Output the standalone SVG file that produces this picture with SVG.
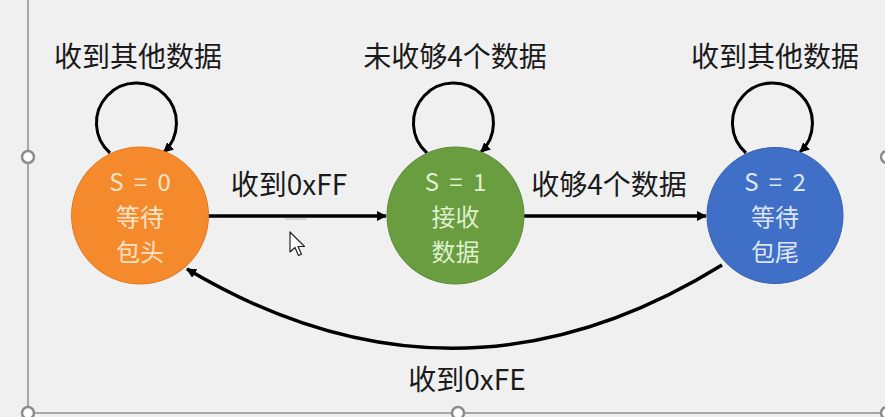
<svg xmlns="http://www.w3.org/2000/svg" width="885" height="417" viewBox="0 0 885 417">
<style>
.lbl{font-family:"Noto Sans CJK SC","Liberation Sans",sans-serif;font-size:28px;fill:#1a1a1a;text-anchor:middle}
.nt{font-family:"Noto Sans CJK SC","Liberation Sans",sans-serif;font-size:24px;text-anchor:middle}
.sv{word-spacing:5px}
.edge{fill:none;stroke:#000;stroke-width:3.5}
.loop{fill:none;stroke:#000;stroke-width:3}
.frame{stroke:#a6a6a6;stroke-width:2;fill:none}
.handle{fill:#fff;stroke:#8c8c8c;stroke-width:2.5}
</style>
<defs>
<marker id="ah" markerWidth="10" markerHeight="10" refX="9" refY="5" orient="auto" markerUnits="userSpaceOnUse" viewBox="0 0 10 10">
<path d="M0,0 L10,5 L0,10 Z" fill="#000"/>
</marker>
</defs>
<rect width="885" height="417" fill="#f0f0f0"/>
<g id="frame">
<line class="frame" x1="28" y1="0" x2="28" y2="413"/>
<line class="frame" x1="28" y1="413" x2="885" y2="413"/>
<circle class="handle" cx="28" cy="157" r="6"/>
<circle class="handle" cx="28" cy="413" r="6"/>
<circle class="handle" cx="458" cy="413" r="6"/>
<circle class="handle" cx="887" cy="157" r="6"/>
<circle class="handle" cx="887" cy="413" r="6"/>
</g>
<g id="connectors">
<path class="loop" d="M110,153 A40,40 0 1 1 164,152" marker-end="url(#ah)"/>
<path class="loop" d="M427,153 A40,40 0 1 1 481,152" marker-end="url(#ah)"/>
<path class="loop" d="M746,153 A40,40 0 1 1 800,152" marker-end="url(#ah)"/>
<line class="edge" x1="208" y1="216" x2="386" y2="216" marker-end="url(#ah)"/>
<line class="edge" x1="524" y1="216" x2="706" y2="216" marker-end="url(#ah)"/>
<path class="edge" d="M722,265 Q456.5,429.5 187,269" marker-end="url(#ah)"/>
<text class="lbl" x="138" y="67">收到其他数据</text>
<text class="lbl" x="455" y="67">未收够4个数据</text>
<text class="lbl" x="775" y="67">收到其他数据</text>
<text class="lbl" x="289" y="195">收到0xFF</text>
<text class="lbl" x="609" y="195">收够4个数据</text>
<text class="lbl" x="467" y="390">收到0xFE</text>
</g>
<g id="s0">
<circle cx="140" cy="215.5" r="68.5" fill="#f58a2c" stroke="#e07a22" stroke-width="1"/>
<text class="nt sv" fill="#fde4c9" x="140" y="191">S = 0</text>
<text class="nt" fill="#fde4c9" x="140" y="226">等待</text>
<text class="nt" fill="#fde4c9" x="140" y="261">包头</text>
</g>
<g id="s1">
<circle cx="455.5" cy="215.5" r="68.5" fill="#6a9c40" stroke="#5c8a36" stroke-width="1"/>
<text class="nt sv" fill="#dff0cf" x="455.5" y="191">S = 1</text>
<text class="nt" fill="#dff0cf" x="455.5" y="226">接收</text>
<text class="nt" fill="#dff0cf" x="455.5" y="261">数据</text>
</g>
<g id="s2">
<circle cx="775" cy="215.5" r="68" fill="#3f6fc6" stroke="#3561b0" stroke-width="1"/>
<text class="nt sv" fill="#dde6f6" x="775" y="191">S = 2</text>
<text class="nt" fill="#dde6f6" x="775" y="226">等待</text>
<text class="nt" fill="#dde6f6" x="775" y="261">包尾</text>
</g>
<g id="cursor">
<line x1="285" y1="219" x2="306" y2="219" stroke="#c8c8c8" stroke-width="1.5"/>
<path d="M290,232 L290,252 L295,247.5 L298.5,255.5 L301.5,254.2 L298,246.5 L304.5,246.5 Z" fill="#fff" stroke="#222" stroke-width="1.2" stroke-linejoin="round"/>
</g>
</svg>
